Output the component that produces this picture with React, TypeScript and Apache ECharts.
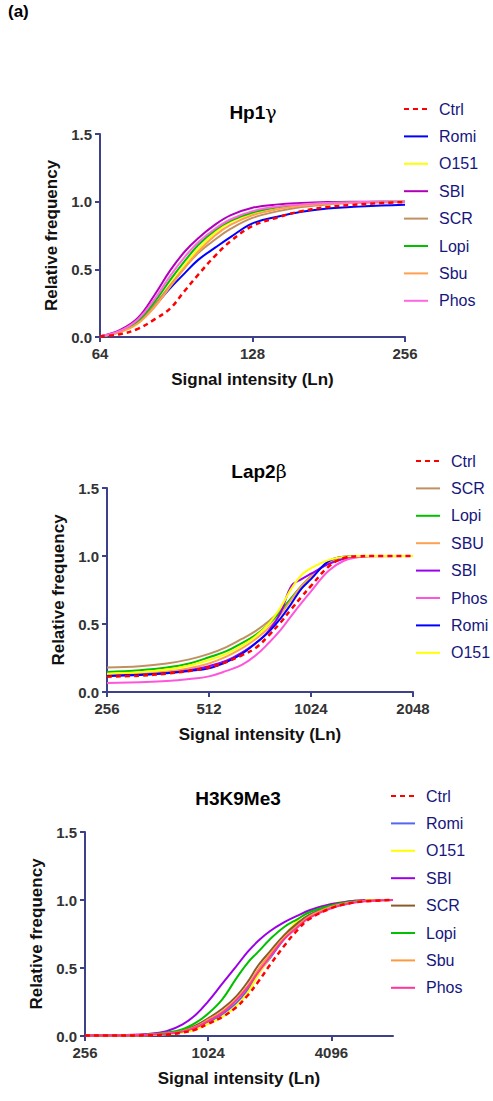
import React, { useEffect, useRef } from "react";
import * as echarts from "echarts";

// ---------- Panel 1: Hp1γ ----------
const hpX = [64, 70, 76, 82, 88, 94, 100, 108, 116, 128, 144, 160, 180, 200, 230, 256];
const hpCtrl = [0.005, 0.02, 0.06, 0.13, 0.21, 0.34, 0.46, 0.6, 0.71, 0.82, 0.885, 0.93, 0.96, 0.975, 0.99, 0.997];
const hpRomi = [0.005, 0.04, 0.11, 0.23, 0.36, 0.47, 0.57, 0.66, 0.74, 0.84, 0.89, 0.925, 0.95, 0.96, 0.972, 0.978];
const hpO151 = [0.005, 0.035, 0.1, 0.23, 0.39, 0.53, 0.65, 0.77, 0.85, 0.91, 0.95, 0.975, 0.99, 0.995, 1.0, 1.0];
const hpSBI = [0.005, 0.05, 0.14, 0.31, 0.49, 0.63, 0.73, 0.83, 0.9, 0.955, 0.98, 0.99, 0.997, 1.0, 1.0, 1.0];
const hpSCR = [0.005, 0.04, 0.11, 0.24, 0.38, 0.51, 0.62, 0.72, 0.8, 0.88, 0.93, 0.96, 0.98, 0.99, 0.995, 1.0];
const hpLopi = [0.005, 0.04, 0.12, 0.26, 0.42, 0.56, 0.68, 0.79, 0.86, 0.92, 0.96, 0.975, 0.99, 0.995, 1.0, 1.0];
const hpSbu = [0.005, 0.035, 0.1, 0.22, 0.37, 0.51, 0.63, 0.75, 0.83, 0.9, 0.945, 0.97, 0.985, 0.99, 0.995, 1.0];
const hpPhos = [0.005, 0.045, 0.13, 0.28, 0.45, 0.59, 0.7, 0.8, 0.87, 0.93, 0.965, 0.98, 0.99, 0.995, 1.0, 1.0];
const hpTicks = [64, 128, 256];

// ---------- Panel 2: Lap2β ----------
const lapX = [256, 320, 384, 448, 512, 576, 640, 704, 768, 832, 896, 960, 1024, 1152, 1280, 1408, 1536, 2048];
const lapCtrl = [0.113, 0.12, 0.135, 0.155, 0.18, 0.22, 0.27, 0.325, 0.415, 0.51, 0.61, 0.7, 0.78, 0.92, 0.985, 0.998, 1.0, 1.0];
const lapSCR = [0.18, 0.19, 0.21, 0.24, 0.28, 0.33, 0.39, 0.45, 0.52, 0.6, 0.69, 0.78, 0.85, 0.95, 0.99, 0.998, 1.0, 1.0];
const lapLopi = [0.147, 0.16, 0.18, 0.21, 0.255, 0.3, 0.36, 0.42, 0.5, 0.59, 0.69, 0.78, 0.85, 0.95, 0.99, 0.998, 1.0, 1.0];
const lapSBU = [0.125, 0.135, 0.15, 0.175, 0.21, 0.26, 0.32, 0.39, 0.47, 0.57, 0.68, 0.78, 0.85, 0.95, 0.99, 0.998, 1.0, 1.0];
const lapSBI = [0.12, 0.128, 0.14, 0.16, 0.19, 0.23, 0.29, 0.36, 0.45, 0.58, 0.78, 0.83, 0.87, 0.94, 0.98, 0.995, 1.0, 1.0];
const lapPhos = [0.066, 0.072, 0.08, 0.095, 0.115, 0.155, 0.2, 0.27, 0.36, 0.455, 0.56, 0.655, 0.74, 0.89, 0.965, 0.99, 0.998, 1.0];
const lapRomi = [0.118, 0.125, 0.138, 0.155, 0.175, 0.22, 0.28, 0.36, 0.44, 0.54, 0.65, 0.76, 0.83, 0.96, 0.995, 1.0, 1.0, 1.0];
const lapO151 = [0.135, 0.145, 0.165, 0.195, 0.235, 0.28, 0.34, 0.41, 0.5, 0.62, 0.76, 0.86, 0.91, 0.97, 0.995, 1.0, 1.0, 1.0];
const lapTicks = [256, 512, 1024, 2048];

// ---------- Panel 3: H3K9Me3 ----------
const h3X = [256, 362, 512, 640, 768, 896, 1024, 1200, 1400, 1600, 1800, 2048, 2400, 2800, 3200, 4096, 5000, 6000, 8192];
const h3Ctrl = [0.003, 0.003, 0.005, 0.01, 0.025, 0.05, 0.09, 0.14, 0.21, 0.3, 0.4, 0.52, 0.66, 0.78, 0.86, 0.94, 0.975, 0.99, 1.0];
const h3Romi = [0.003, 0.004, 0.008, 0.015, 0.03, 0.06, 0.1, 0.16, 0.24, 0.34, 0.46, 0.57, 0.71, 0.82, 0.89, 0.96, 0.99, 1.0, null];
const h3O151 = [0.003, 0.003, 0.006, 0.012, 0.025, 0.05, 0.09, 0.14, 0.22, 0.32, 0.45, 0.58, 0.73, 0.85, 0.92, 0.97, 0.99, 1.0, 1.0];
const h3SBI = [0.003, 0.005, 0.015, 0.035, 0.085, 0.16, 0.255, 0.385, 0.51, 0.62, 0.7, 0.77, 0.835, 0.885, 0.925, 0.97, 0.99, 1.0, null];
const h3SCR = [0.003, 0.004, 0.01, 0.02, 0.04, 0.08, 0.13, 0.2, 0.29, 0.4, 0.52, 0.62, 0.74, 0.83, 0.89, 0.95, 0.98, 0.995, 1.0];
const h3Lopi = [0.003, 0.004, 0.01, 0.025, 0.05, 0.1, 0.165, 0.27, 0.42, 0.54, 0.62, 0.71, 0.8, 0.86, 0.91, 0.96, 0.985, 0.995, null];
const h3Sbu = [0.003, 0.004, 0.009, 0.018, 0.035, 0.07, 0.12, 0.18, 0.27, 0.37, 0.49, 0.6, 0.72, 0.81, 0.88, 0.95, 0.98, 0.995, 1.0];
const h3Phos = [0.003, 0.004, 0.008, 0.016, 0.032, 0.065, 0.11, 0.17, 0.26, 0.36, 0.47, 0.58, 0.71, 0.8, 0.87, 0.94, 0.975, 0.99, 1.0];
const h3Ticks = [256, 1024, 4096];

const yTicks = [0, 0.5, 1.0, 1.5];

const FONT = "'Liberation Sans', Arial, sans-serif";
const AXIS_COLOR = "#3d4189";
const LEGEND_TEXT = "#16167c";

type S = { name: string; data: (number | null)[]; color: string; dashed?: boolean };

const panels = [
  {
    x: hpX,
    ticks: hpTicks,
    min: 64,
    max: 256,
    base: 2,
    grid: { left: 100, top: 134, width: 305, height: 203 },
    legend: { left: 403, top: 101 },
    series: [
      { name: "Ctrl", data: hpCtrl, color: "#ff0000", dashed: true },
      { name: "Romi", data: hpRomi, color: "#0000ff" },
      { name: "O151", data: hpO151, color: "#ffff00" },
      { name: "SBI", data: hpSBI, color: "#b000b8" },
      { name: "SCR", data: hpSCR, color: "#c09060" },
      { name: "Lopi", data: hpLopi, color: "#00c000" },
      { name: "Sbu", data: hpSbu, color: "#ffa050" },
      { name: "Phos", data: hpPhos, color: "#ff66e0" },
    ] as S[],
  },
  {
    x: lapX,
    ticks: lapTicks,
    min: 256,
    max: 2048,
    base: 2,
    grid: { left: 107, top: 488, width: 306, height: 204 },
    legend: { left: 415, top: 453 },
    series: [
      { name: "Ctrl", data: lapCtrl, color: "#ff0000", dashed: true },
      { name: "SCR", data: lapSCR, color: "#c09060" },
      { name: "Lopi", data: lapLopi, color: "#00c000" },
      { name: "SBU", data: lapSBU, color: "#ffa050" },
      { name: "SBI", data: lapSBI, color: "#9a00ee" },
      { name: "Phos", data: lapPhos, color: "#ff55dd" },
      { name: "Romi", data: lapRomi, color: "#0000ff" },
      { name: "O151", data: lapO151, color: "#ffff00" },
    ] as S[],
  },
  {
    x: h3X,
    ticks: h3Ticks,
    min: 256,
    max: 8192,
    base: 4,
    grid: { left: 85, top: 832, width: 308, height: 204 },
    legend: { left: 390, top: 788 },
    series: [
      { name: "Ctrl", data: h3Ctrl, color: "#ff0000", dashed: true },
      { name: "Romi", data: h3Romi, color: "#5566f0" },
      { name: "O151", data: h3O151, color: "#ffff00" },
      { name: "SBI", data: h3SBI, color: "#9a00e6" },
      { name: "SCR", data: h3SCR, color: "#8b5a2b" },
      { name: "Lopi", data: h3Lopi, color: "#00c000" },
      { name: "Sbu", data: h3Sbu, color: "#ff9940" },
      { name: "Phos", data: h3Phos, color: "#ff3399" },
    ] as S[],
  },
];

const titles = [
  { x: 253, y: 112, main: "Hp1", greek: "γ" },
  { x: 259, y: 471, main: "Lap2", greek: "β" },
  { x: 238, y: 798, main: "H3K9Me3", greek: "" },
];

export default function App() {
  const ref = useRef<HTMLDivElement>(null);
  useEffect(() => {
    document.body.style.margin = "0";
    if (!ref.current) return;
    const chart = echarts.init(ref.current, undefined, { renderer: "svg" });

    const grids: any[] = [];
    const xAxes: any[] = [];
    const yAxes: any[] = [];
    const series: any[] = [];
    const legends: any[] = [];

    panels.forEach((p, pi) => {
      grids.push({ ...p.grid, containLabel: false });
      xAxes.push({
        type: "log",
        logBase: p.base,
        gridIndex: pi,
        min: p.min,
        max: p.max,
        name: "Signal intensity (Ln)",
        nameLocation: "middle",
        nameGap: 34,
        nameTextStyle: { fontFamily: FONT, fontWeight: "bold", fontSize: 17, color: "#111" },
        axisLine: { show: true, onZero: false, lineStyle: { color: AXIS_COLOR, width: 2 } },
        axisTick: { show: true, length: 5, lineStyle: { color: AXIS_COLOR, width: 2 }, customValues: p.ticks },
        axisLabel: {
          customValues: p.ticks,
          margin: 9,
          fontFamily: FONT,
          fontWeight: "bold",
          fontSize: 15,
          color: "#333",
          formatter: (v: number) => String(Math.round(v)),
        },
        splitLine: { show: false },
        minorTick: { show: false },
      });
      yAxes.push({
        type: "value",
        gridIndex: pi,
        min: 0,
        max: 1.5,
        interval: 0.5,
        name: "Relative frequency",
        nameLocation: "middle",
        nameGap: 32,
        nameTextStyle: { fontFamily: FONT, fontWeight: "bold", fontSize: 17, color: "#111" },
        axisLine: { show: true, lineStyle: { color: AXIS_COLOR, width: 2 } },
        axisTick: { show: true, length: 5, lineStyle: { color: AXIS_COLOR, width: 2 }, customValues: yTicks },
        axisLabel: {
          margin: 8,
          fontFamily: FONT,
          fontWeight: "bold",
          fontSize: 15,
          color: "#333",
          formatter: (v: number) => v.toFixed(1),
        },
        splitLine: { show: false },
      });
      const names: string[] = [];
      p.series.forEach((s, si) => {
        const id = s.name + "#" + pi;
        names.push(id);
        series.push({
          type: "line",
          name: id,
          xAxisIndex: pi,
          yAxisIndex: pi,
          symbol: "none",
          smooth: 0.4,
          connectNulls: false,
          z: s.dashed ? 10 : 2 + si * 0.1,
          lineStyle: { color: s.color, width: s.dashed ? 2.5 : 2, type: s.dashed ? [5, 4] : "solid" },
          itemStyle: { color: s.color },
          data: p.x.map((x, i) => [x, s.data[i]]).filter((d) => d[1] !== null),
        });
      });
      legends.push({
        orient: "vertical",
        left: p.legend.left,
        top: p.legend.top,
        padding: 0,
        itemWidth: 24,
        itemHeight: 14,
        itemGap: 11.4,
        selectedMode: false,
        data: names,
        itemStyle: { opacity: 0 },
        formatter: (n: string) => n.split("#")[0],
        textStyle: { fontFamily: FONT, fontSize: 16, color: LEGEND_TEXT, lineHeight: 16, padding: [0, 0, 0, 6] },
      });
    });

    const graphics: any[] = [
      {
        type: "text",
        left: 8,
        top: 3,
        style: { text: "(a)", font: `bold 17px ${FONT}`, fill: "#000" },
      },
      ...titles.map((t) => ({
        type: "text",
        x: t.x,
        y: t.y,
        style: {
          text: t.greek ? `{m|${t.main}}{g|${t.greek}}` : `{m|${t.main}}`,
          align: "center",
          verticalAlign: "middle",
          rich: {
            m: { font: `bold 19px ${FONT}`, fill: "#000" },
            g: { font: `19px 'DejaVu Serif', serif`, fill: "#000" },
          },
        },
      })),
    ];

    chart.setOption({
      animation: false,
      backgroundColor: "#fff",
      grid: grids,
      xAxis: xAxes,
      yAxis: yAxes,
      legend: legends,
      series,
      graphic: graphics,
    });
    return () => chart.dispose();
  }, []);
  return <div ref={ref} style={{ width: 493, height: 1101 }} />;
}
